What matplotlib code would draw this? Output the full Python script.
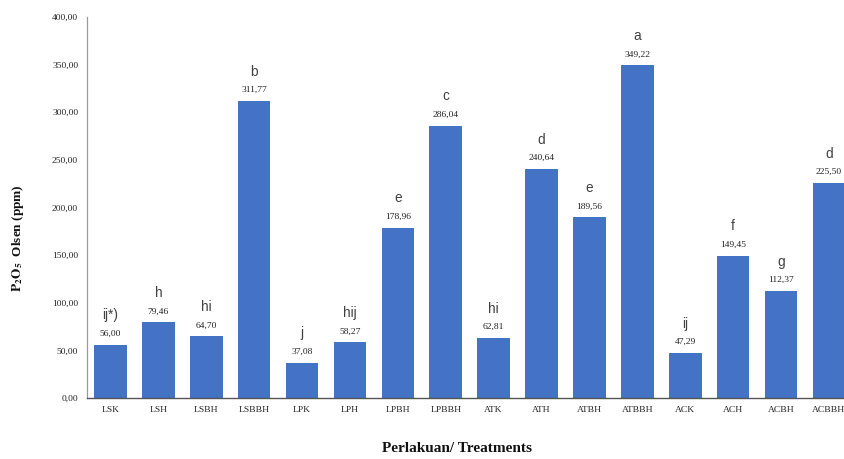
import matplotlib.pyplot as plt
from matplotlib.ticker import FuncFormatter

plt.rcParams["mathtext.fontset"] = "stix"

treatments = ["LSK", "LSH", "LSBH", "LSBBH", "LPK", "LPH", "LPBH", "LPBBH",
              "ATK", "ATH", "ATBH", "ATBBH", "ACK", "ACH", "ACBH", "ACBBH"]
p2o5 = [56.00, 79.46, 64.70, 311.77, 37.08, 58.27, 178.96, 286.04,
        62.81, 240.64, 189.56, 349.22, 47.29, 149.45, 112.37, 225.50]
letters = ["ij*)", "h", "hi", "b", "j", "hij", "e", "c",
           "hi", "d", "e", "a", "ij", "f", "g", "d"]
yticks = [0, 50, 100, 150, 200, 250, 300, 350, 400]

serif = ["Liberation Serif", "DejaVu Serif"]
sans = ["Liberation Sans", "DejaVu Sans"]

fig = plt.figure(figsize=(8.44, 4.59), dpi=100)
W, H = 844, 459
left, bottom, top = 86.5, 398, 17
slot = 47.9
ax = fig.add_axes([left / W, 1 - bottom / H, slot * len(treatments) / W, (bottom - top) / H])

x = range(len(treatments))
ax.bar(x, p2o5, width=0.68, color="#4472C4", zorder=2)
ax.set_xlim(-0.5, len(treatments) - 0.5)
ax.set_ylim(0, 400)
ax.set_yticks(yticks)
ax.yaxis.set_major_formatter(FuncFormatter(lambda v, _: f"{v:.2f}".replace(".", ",")))
ax.set_xticks(list(x))
ax.set_xticklabels(treatments)

for lab in ax.get_xticklabels() + ax.get_yticklabels():
    lab.set_family(serif)
    lab.set_fontsize(6.8)
    lab.set_color("#222222")
ax.tick_params(axis="both", length=0)
ax.tick_params(axis="x", pad=6)
ax.tick_params(axis="y", pad=6)

for s in ("top", "right"):
    ax.spines[s].set_visible(False)
ax.spines["left"].set_color("#9a9a9a")
ax.spines["left"].set_linewidth(0.9)
ax.spines["bottom"].set_color("#555555")
ax.spines["bottom"].set_linewidth(1.0)

for i, (v, l) in enumerate(zip(p2o5, letters)):
    ax.annotate(f"{v:.2f}".replace(".", ","), (i, v), xytext=(0, 5),
                textcoords="offset points", ha="center", va="bottom",
                fontsize=6.8, family=serif, color="#222222")
    ax.annotate(l, (i, v), xytext=(0, 16), textcoords="offset points",
                ha="center", va="bottom", fontsize=9.8, family=sans,
                color="#404040")

fig.text(18 / W, 1 - 238 / H, r"$\mathbf{P_2O_5}$  Olsen (ppm)", rotation=90,
         ha="center", va="center", fontsize=9.5, fontweight="bold",
         family=serif, color="#111111")
fig.text(457 / W, 1 - 449 / H, "Perlakuan/ Treatments", ha="center", va="center",
         fontsize=11, fontweight="bold", family=serif, color="#111111")

fig.savefig("out.png", dpi=100)
